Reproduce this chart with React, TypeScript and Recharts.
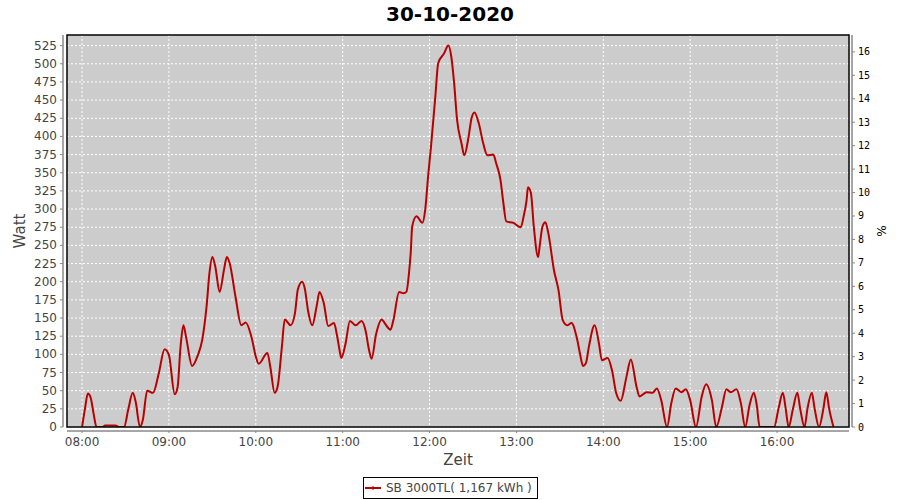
import React from "react";
import { LineChart, Line, XAxis, YAxis, CartesianGrid, Legend } from "recharts";

// ---- data ----
const TITLE = "30-10-2020";
const SERIES_NAME = "SB 3000TL( 1,167 kWh )";
const X_LABEL = "Zeit";
const Y_LEFT_LABEL = "Watt";
const Y_RIGHT_LABEL = "%";

const hourTicks = ["08:00", "09:00", "10:00", "11:00", "12:00", "13:00", "14:00", "15:00", "16:00"];
const wattTicks = [0, 25, 50, 75, 100, 125, 150, 175, 200, 225, 250, 275, 300, 325, 350, 375, 400, 425, 450, 475, 500, 525];
const pctTicks = [0, 1, 2, 3, 4, 5, 6, 7, 8, 9, 10, 11, 12, 13, 14, 15, 16];

const times = [
  "08:00", "08:02", "08:04", "08:06", "08:08", "08:10", "08:14", "08:16", "08:23", "08:26",
  "08:29", "08:32", "08:35", "08:37", "08:40", "08:42", "08:45", "08:49", "08:53", "08:57",
  "09:00", "09:04", "09:06", "09:08", "09:10", "09:12", "09:16", "09:20", "09:23", "09:26",
  "09:28", "09:30", "09:32", "09:35", "09:38", "09:40", "09:42", "09:46", "09:50", "09:53",
  "09:57", "10:00", "10:02", "10:08", "10:10", "10:13", "10:15", "10:18", "10:20", "10:24",
  "10:27", "10:29", "10:32", "10:34", "10:36", "10:39", "10:42", "10:44", "10:47", "10:50",
  "10:54", "10:56", "10:58", "10:59", "11:02", "11:05", "11:09", "11:13", "11:16", "11:18",
  "11:20", "11:23", "11:27", "11:29", "11:33", "11:35", "11:39", "11:42", "11:44", "11:46",
  "11:47", "11:48", "11:51", "11:55", "11:57", "11:59", "12:01", "12:04", "12:06", "12:10",
  "12:13", "12:15", "12:17", "12:19", "12:22", "12:24", "12:27", "12:29", "12:31", "12:34",
  "12:37", "12:40", "12:44", "12:46", "12:49", "12:51", "12:53", "12:58", "13:03", "13:05",
  "13:07", "13:08", "13:10", "13:12", "13:15", "13:16", "13:18", "13:20", "13:22", "13:26",
  "13:29", "13:32", "13:35", "13:38", "13:42", "13:44", "13:46", "13:48", "13:50", "13:54",
  "13:57", "13:59", "14:03", "14:06", "14:09", "14:12", "14:16", "14:19", "14:23", "14:25",
  "14:30", "14:34", "14:37", "14:40", "14:44", "14:47", "14:50", "14:54", "14:57", "15:00",
  "15:04", "15:08", "15:11", "15:15", "15:18", "15:22", "15:25", "15:28", "15:32", "15:35",
  "15:38", "15:41", "15:44", "15:46", "15:48", "15:58", "16:01", "16:04", "16:06", "16:08",
  "16:11", "16:14", "16:16", "16:19", "16:21", "16:24", "16:26", "16:29", "16:32", "16:34",
  "16:36", "16:39",
];

const watts = [
  0, 25, 46, 40, 18, 0, 0, 2, 2, 0,
  0, 25, 47, 35, 0, 10, 50, 47, 74, 107,
  99, 45, 55, 110, 140, 122, 84, 99, 120, 166,
  212, 234, 221, 186, 216, 234, 225, 179, 140, 144,
  124, 97, 87, 102, 83, 47, 55, 110, 148, 140,
  156, 189, 200, 189, 161, 140, 166, 186, 170, 139,
  143, 127, 104, 95, 115, 146, 140, 146, 131, 108,
  94, 127, 148, 143, 134, 147, 186, 184, 186, 216,
  240, 276, 290, 281, 299, 345, 386, 455, 501, 514,
  525, 510, 473, 423, 391, 374, 400, 425, 433, 418,
  391, 374, 375, 363, 340, 308, 283, 281, 275, 290,
  312, 330, 322, 276, 234, 248, 276, 282, 267, 215,
  189, 147, 140, 143, 120, 100, 84, 88, 110, 140,
  115, 92, 95, 78, 46, 36, 69, 93, 55, 42,
  48, 47, 53, 37, 0, 33, 53, 48, 52, 37,
  0, 42, 59, 37, 0, 28, 52, 48, 52, 33,
  0, 30, 47, 30, 0, 0, 25, 47, 25, 0,
  25, 47, 25, 0, 25, 47, 25, 0, 25, 48,
  25, 0,
];

// ---- layout ----
const W = 900;
const H = 500;
const PLOT_L = 67;
const PLOT_R = 849;
const PLOT_T = 35;
const PLOT_B = 427;
const X_AXIS_H = 30;
const X_DOMAIN: [number, number] = [469.6, 1009.7];
const W_DOMAIN: [number, number] = [0, 539.6];
const P_DOMAIN: [number, number] = [0, 16.72];

const FONT = "DejaVu Sans";
const MONO = "DejaVu Sans Mono";
const LINE_COLOR = "#b80000";
const AXIS_COLOR = "#888888";
const TEXT_COLOR = "#444444";

const toMin = (s: string) => {
  const [h, m] = s.split(":").map(Number);
  return h * 60 + m;
};
const fmtMin = (v: number) => {
  const h = Math.floor(v / 60);
  const m = Math.round(v - h * 60);
  return `${String(h).padStart(2, "0")}:${String(m).padStart(2, "0")}`;
};

const data = times.map((t, i) => ({ t: toMin(t), w: watts[i] }));
const xTicks = hourTicks.map(toMin);

const BottomTick = (p: any) => {
  const { x, y, payload } = p;
  return (
    <g>
      <line x1={x} x2={x} y1={y + 4} y2={y + 6} stroke={AXIS_COLOR} />
      <text x={x} y={y + 19} textAnchor="middle" fontSize={12} fontFamily={FONT} fill={TEXT_COLOR}>
        {fmtMin(payload.value)}
      </text>
    </g>
  );
};

const LeftTick = (p: any) => {
  const { x, y, payload } = p;
  return (
    <g>
      <line x1={x - 7} x2={x - 4} y1={y} y2={y} stroke={AXIS_COLOR} />
      <text x={x - 10} y={y + 4} textAnchor="end" fontSize={12} fontFamily={FONT} fill={TEXT_COLOR}>
        {payload.value}
      </text>
    </g>
  );
};

const RightTick = (p: any) => {
  const { x, y, payload } = p;
  return (
    <g>
      <line x1={x + 3} x2={x + 6} y1={y} y2={y} stroke={AXIS_COLOR} />
      <text x={x + 9} y={y + 3.5} textAnchor="start" fontSize={10} fontFamily={MONO} fill="#000">
        {payload.value}
      </text>
    </g>
  );
};

const LeftLabel = (p: any) => {
  const vb = p.viewBox || {};
  const cx = vb.x + 20;
  const cy = vb.y + vb.height / 2;
  return (
    <text x={cx} y={cy} transform={`rotate(-90 ${cx} ${cy})`} textAnchor="middle" dominantBaseline="central"
      fontSize={15} fontFamily={FONT} fill={TEXT_COLOR}>
      {Y_LEFT_LABEL}
    </text>
  );
};

const RightLabel = (p: any) => {
  const vb = p.viewBox || {};
  const cx = vb.x + 33;
  const cy = vb.y + vb.height / 2;
  return (
    <text x={cx} y={cy} transform={`rotate(-90 ${cx} ${cy})`} textAnchor="middle" dominantBaseline="central"
      fontSize={12} fontFamily={FONT} fill="#000">
      {Y_RIGHT_LABEL}
    </text>
  );
};

const BottomLabel = (p: any) => {
  const vb = p.viewBox || {};
  const cx = vb.x + vb.width / 2;
  const cy = vb.y + 33;
  return (
    <text x={cx} y={cy} textAnchor="middle" dominantBaseline="central" fontSize={15} fontFamily={FONT} fill={TEXT_COLOR}>
      {X_LABEL}
    </text>
  );
};

const LegendBox = () => (
  <div
    style={{
      boxSizing: "border-box",
      width: 175,
      height: 22,
      border: "1px solid #000",
      background: "#fff",
      display: "flex",
      alignItems: "center",
      paddingLeft: 1,
      fontFamily: FONT,
      fontSize: 12,
      color: TEXT_COLOR,
      whiteSpace: "nowrap",
    }}
  >
    <svg width={17} height={6} style={{ marginRight: 4 }}>
      <line x1={0} x2={16} y1={3} y2={3} stroke={LINE_COLOR} strokeWidth={2} />
      <line x1={8} x2={8} y1={1} y2={5} stroke={LINE_COLOR} strokeWidth={1} />
    </svg>
    <span>{SERIES_NAME}</span>
  </div>
);

export default function App() {
  return (
    <div style={{ position: "absolute", left: 0, top: 0, width: W, height: H, background: "#fff" }}>
      <LineChart
        width={W}
        height={H}
        data={data}
        margin={{ top: PLOT_T, right: 0, bottom: H - PLOT_B - X_AXIS_H, left: 0 }}
      >
        <CartesianGrid
          xAxisId="x"
          yAxisId="left"
          fill="#cccccc"
          stroke="#ffffff"
          strokeDasharray="2 2"
          strokeWidth={1}
        />
        <XAxis
          xAxisId="x"
          dataKey="t"
          type="number"
          domain={X_DOMAIN}
          allowDataOverflow
          ticks={xTicks}
          interval={0}
          height={X_AXIS_H}
          axisLine={false}
          tickLine={false}
          tickSize={0}
          tickMargin={0}
          tick={<BottomTick />}
          label={<BottomLabel />}
        />
        <YAxis
          yAxisId="left"
          orientation="left"
          type="number"
          domain={W_DOMAIN}
          allowDataOverflow
          ticks={wattTicks}
          interval={0}
          width={PLOT_L}
          axisLine={false}
          tickLine={false}
          tickSize={0}
          tickMargin={0}
          tick={<LeftTick />}
          label={<LeftLabel />}
        />
        <YAxis
          yAxisId="right"
          orientation="right"
          type="number"
          domain={P_DOMAIN}
          allowDataOverflow
          ticks={pctTicks}
          interval={0}
          width={W - PLOT_R}
          axisLine={false}
          tickLine={false}
          tickSize={0}
          tickMargin={0}
          tick={<RightTick />}
          label={<RightLabel />}
        />
        <Legend
          layout="vertical"
          align="center"
          verticalAlign="middle"
          wrapperStyle={{ left: 363, top: 477, width: 175, height: 22 }}
          content={() => <LegendBox />}
        />
        <Line
          xAxisId="x"
          yAxisId="left"
          type="monotone"
          dataKey="w"
          name={SERIES_NAME}
          stroke={LINE_COLOR}
          strokeWidth={2}
          dot={false}
          activeDot={false}
          isAnimationActive={false}
        />
      </LineChart>
      <svg
        width={W}
        height={H}
        style={{ position: "absolute", left: 0, top: 0, pointerEvents: "none" }}
      >
        <text x={W / 2} y={21} textAnchor="middle" fontSize={20} fontWeight="bold" fontFamily={FONT} fill="#000">
          {TITLE}
        </text>
        <rect x={PLOT_L} y={PLOT_T} width={PLOT_R - PLOT_L} height={PLOT_B - PLOT_T} fill="none" stroke="#000" strokeWidth={1.5} />
        <line x1={PLOT_L - 4} x2={PLOT_L - 4} y1={PLOT_T} y2={PLOT_B} stroke={AXIS_COLOR} strokeWidth={1.5} />
        <line x1={PLOT_R + 3} x2={PLOT_R + 3} y1={PLOT_T} y2={PLOT_B} stroke={AXIS_COLOR} strokeWidth={1.5} />
        <line x1={PLOT_L} x2={PLOT_R} y1={PLOT_B + 4} y2={PLOT_B + 4} stroke={AXIS_COLOR} strokeWidth={1.5} />
      </svg>
    </div>
  );
}
